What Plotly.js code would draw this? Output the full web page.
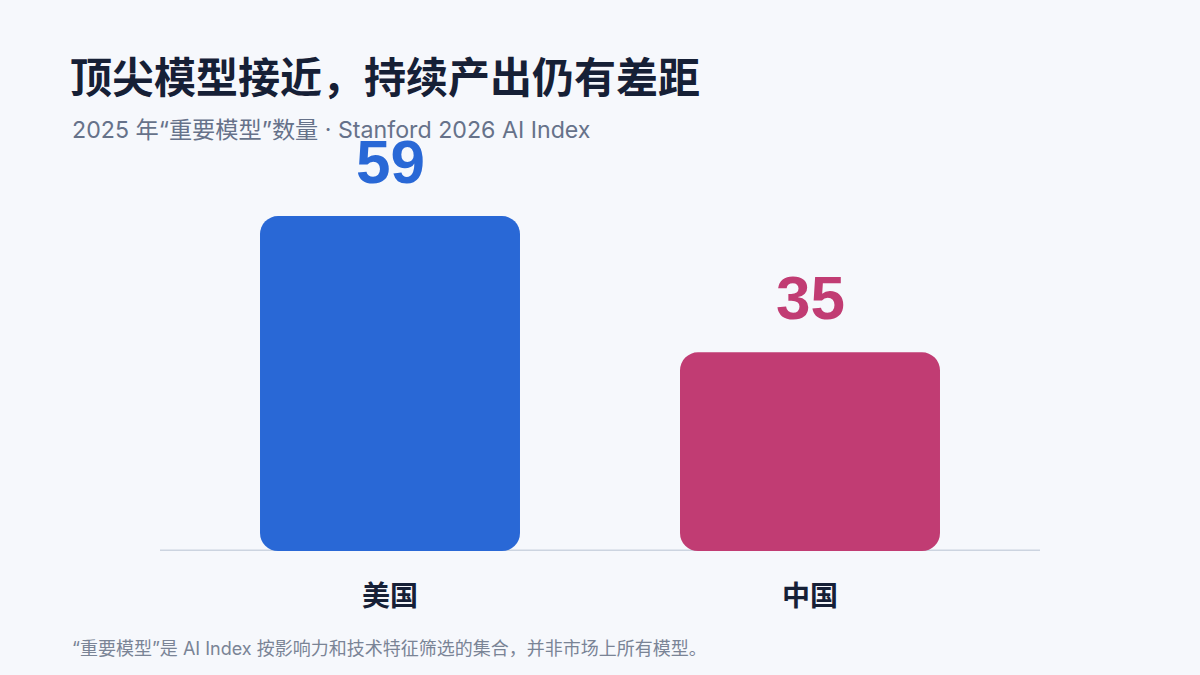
<!DOCTYPE html>
<html>
<head>
<meta charset="utf-8">
<script src="https://cdn.plot.ly/plotly-3.0.1.min.js"></script>
<style>
  html, body { margin: 0; padding: 0; background: #f6f8fc; }
  #chart { width: 1200px; height: 675px; }
</style>
</head>
<body>
<div id="chart"></div>
<script>
// data
var countries = ['美国', '中国'];
var modelCounts = [59, 35];
var barColors = ['#2968d6', '#c13c73'];

var titleText = '顶尖模型接近，持续产出仍有差距';
var subtitleText = '2025 年“重要模型”数量 · Stanford 2026 AI Index';
var noteText = '“重要模型”是 AI Index 按影响力和技术特征筛选的集合，并非市场上所有模型。';

var W = 1200, H = 675;
var M = {l: 180, r: 180, t: 182, b: 124};
var plotW = W - M.l - M.r, plotH = H - M.t - M.b;
// pixel -> paper helpers for text placed outside the plot
function px2x(px) { return (px - M.l) / plotW; }
function px2y(py) { return (H - M.b - py) / plotH; }

var cjk = '"Noto Sans CJK SC", "Noto Sans", sans-serif';
var mixed = 'Inter, "Noto Sans CJK SC", sans-serif';

// an explicit base makes plotly round both ends of the bar
var bars = {
  type: 'bar',
  x: countries,
  y: modelCounts,
  base: countries.map(function() { return 0; }),
  marker: {color: barColors, cornerradius: 18},
  hoverinfo: 'skip'
};

var annotations = countries.map(function(c, i) {
  return {
    x: c, y: modelCounts[i], xref: 'x', yref: 'y',
    text: String(modelCounts[i]),
    showarrow: false, yanchor: 'bottom', yshift: 18,
    font: {family: '"Liberation Sans", Arial, sans-serif', size: 62, weight: 700, color: barColors[i]}
  };
});
annotations.push({
  xref: 'paper', yref: 'paper', x: px2x(70), y: px2y(130),
  xanchor: 'left', yanchor: 'middle', showarrow: false,
  text: subtitleText,
  font: {family: mixed, size: 23.2, color: '#66728a'}
});
annotations.push({
  xref: 'paper', yref: 'paper', x: px2x(70), y: px2y(648),
  xanchor: 'left', yanchor: 'middle', showarrow: false,
  text: noteText,
  font: {family: mixed, size: 18, color: '#7a8496'}
});

var layout = {
  width: W, height: H,
  margin: M,
  paper_bgcolor: '#f6f8fc',
  plot_bgcolor: '#f6f8fc',
  showlegend: false,
  bargap: 0.381,
  title: {
    text: titleText,
    xref: 'container', yref: 'container',
    x: 70 / W, y: 1 - 78 / H, xanchor: 'left', yanchor: 'middle',
    font: {family: cjk, size: 42, weight: 700, color: '#162036'}
  },
  xaxis: {
    range: [-0.5, 1.5],
    showgrid: false, zeroline: false, showline: false,
    ticks: '', ticklabelstandoff: 26,
    tickfont: {family: cjk, size: 28, weight: 700, color: '#162036'},
    fixedrange: true
  },
  yaxis: {
    range: [0, 65],
    visible: false,
    fixedrange: true
  },
  shapes: [{
    type: 'line', layer: 'below',
    xref: 'paper', yref: 'y',
    x0: px2x(160), x1: px2x(1040), y0: 0, y1: 0,
    line: {color: '#ccd4e0', width: 3}
  }],
  annotations: annotations
};

Plotly.newPlot('chart', [bars], layout, {displayModeBar: false, staticPlot: true});
</script>
</body>
</html>
